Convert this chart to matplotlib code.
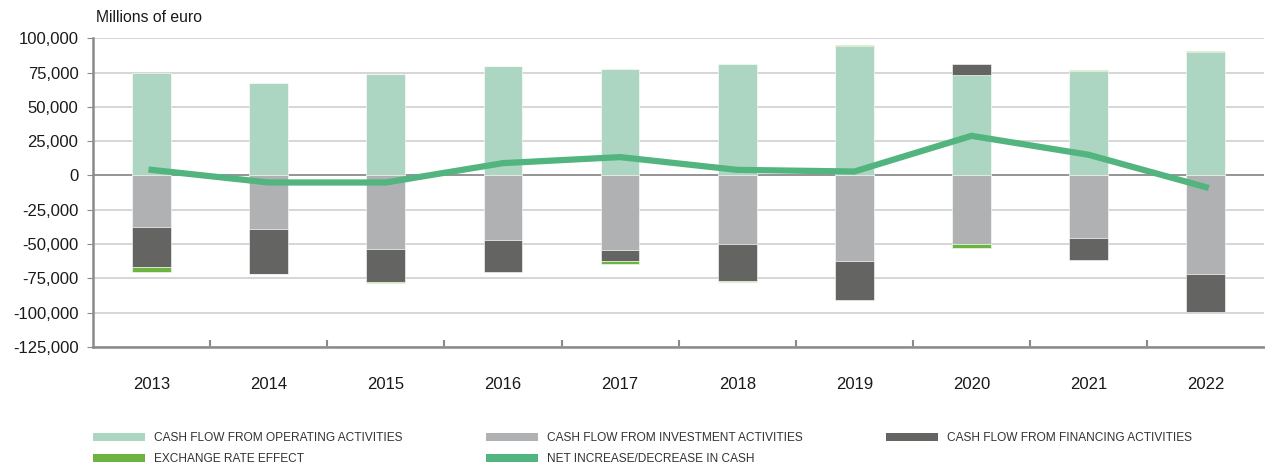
import matplotlib
matplotlib.use("Agg")
import matplotlib.pyplot as plt
from matplotlib.patches import Patch
from matplotlib.ticker import FuncFormatter
import numpy as np

years = ["2013", "2014", "2015", "2016", "2017", "2018", "2019", "2020", "2021", "2022"]
operating = [74500, 67500, 74200, 79800, 77400, 81500, 94400, 73300, 76000, 90000]
investment = [-37600, -38800, -53600, -46800, -54600, -49900, -62100, -49900, -45300, -71500]
financing = [-29100, -32700, -24000, -23800, -7500, -27000, -28900, 8200, -16500, -27700]
exchange = [-3600, -500, -800, 300, -2700, -500, 500, -2900, 600, 500]
net_change = [4100, -5100, -5100, 9000, 13400, 4100, 2900, 28900, 15100, -8500]

labels = ["CASH FLOW FROM OPERATING ACTIVITIES", "CASH FLOW FROM INVESTMENT ACTIVITIES",
          "CASH FLOW FROM FINANCING ACTIVITIES", "EXCHANGE RATE EFFECT",
          "NET INCREASE/DECREASE IN CASH"]
colors = ["#acd6c2", "#b0b1b3", "#646462", "#6db33f", "#52b57f"]

plt.rcParams['font.family'] = ['Liberation Sans', 'DejaVu Sans']

fig = plt.figure(figsize=(12.65, 4.67), dpi=100)
ax = fig.add_axes([0.0735, 0.257, 0.926, 0.661])

x = np.arange(len(years))
w = 0.33
series = [operating, investment, financing, exchange]
pos_base = np.zeros(len(years))
neg_base = np.zeros(len(years))
for vals, col in zip(series, colors[:4]):
    v = np.array(vals, dtype=float)
    bottoms = np.where(v >= 0, pos_base, neg_base)
    ax.bar(x, v, width=w, bottom=bottoms, color=col, edgecolor="white",
           linewidth=0.4, zorder=3)
    pos_base = pos_base + np.where(v >= 0, v, 0)
    neg_base = neg_base + np.where(v < 0, v, 0)

ax.plot(x, net_change, color=colors[4], linewidth=4.5, zorder=4,
        solid_joinstyle="miter")

ax.set_ylim(-125000, 100000)
ax.set_xlim(-0.5, len(years) - 0.5)
ax.set_yticks(np.arange(-125000, 100001, 25000))
ax.yaxis.set_major_formatter(FuncFormatter(lambda v, p: f"{int(v):,}"))
ax.yaxis.grid(True, color="#cfcfcf", linewidth=1.2, zorder=0)
ax.axhline(0, color="#8a8a8a", linewidth=1.2, zorder=2)
ax.set_axisbelow(True)

ax.set_xticks(x)
ax.set_xticklabels(years)
ax.set_xticks(np.arange(0.5, len(years) - 0.5, 1), minor=True)
ax.tick_params(axis="x", which="major", length=0, pad=21.5, labelsize=12, labelcolor="#1a1a1a")
ax.tick_params(axis="x", which="minor", length=5, direction="in", color="#8a8a8a", width=1.5)
ax.tick_params(axis="y", length=4, color="#8a8a8a", labelsize=12, labelcolor="#1a1a1a", pad=6.5)

for s in ["top", "right"]:
    ax.spines[s].set_visible(False)
for s in ["left", "bottom"]:
    ax.spines[s].set_color("#8a8a8a")
    ax.spines[s].set_linewidth(1.8)

fig.text(96 / 1265, 1 - 18 / 467, "Millions of euro", fontsize=11.3, color="#1a1a1a",
         ha="left", va="center")

handles = [Patch(facecolor=c) for c in colors]
order = [0, 3, 1, 4, 2]
fig.legend([handles[i] for i in order], [labels[i] for i in order],
           loc="upper left", bbox_to_anchor=(93 / 1265, 1 - 432 / 467),
           ncol=3, frameon=False, fontsize=8.6, handlelength=4.35, handleheight=0.65,
           handletextpad=0.75, columnspacing=7.0, labelspacing=0.75,
           borderpad=0, borderaxespad=0, labelcolor="#333333")

fig.savefig("out.png", dpi=100)
